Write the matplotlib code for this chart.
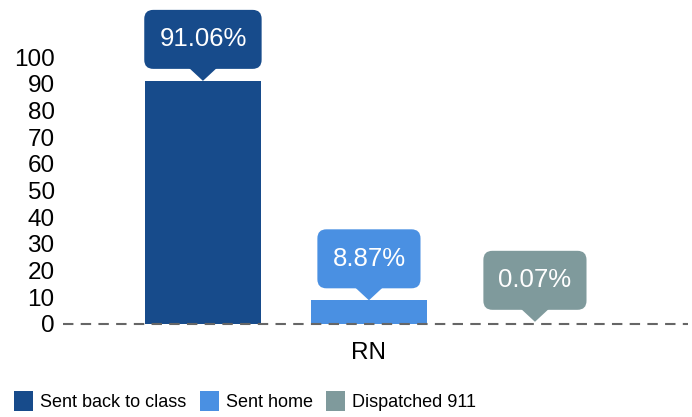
import matplotlib
matplotlib.use("Agg")
import matplotlib.pyplot as plt
from matplotlib.patches import FancyBboxPatch, Polygon, Patch
from matplotlib.transforms import IdentityTransform

plt.rcParams["font.family"] = ["Liberation Sans", "DejaVu Sans"]

categories = ["RN"]
series = ["Sent back to class", "Sent home", "Dispatched 911"]
values = [91.06, 8.87, 0.07]
labels = ["91.06%", "8.87%", "0.07%"]
colors = ["#174b8b", "#4a90e2", "#7f9a9c"]
yticks = list(range(0, 101, 10))

W, H = 692, 417
fig = plt.figure(figsize=(W / 100, H / 100), dpi=100)
ax = fig.add_axes([63 / W, (H - 324) / H, (688 - 63) / W, (324 - 57) / H])

bar_w = 0.70
offsets = [-1, 0, 1]
for off, v, c, s in zip(offsets, values, colors, series):
    ax.bar(off, v, width=bar_w, color=c, label=s, zorder=2)

ax.set_xlim(-1.843, 1.922)
ax.set_ylim(0, 100)
ax.set_yticks(yticks)
ax.set_yticklabels([str(t) for t in yticks], fontsize=17.5)
ax.set_xticks([0])
ax.set_xticklabels(categories, fontsize=17.5)
ax.tick_params(axis="y", length=0, pad=6)
ax.tick_params(axis="x", length=0, pad=13)
for sp in ax.spines.values():
    sp.set_visible(False)
ax.axhline(0, color="#666666", lw=1.5, ls=(0, (5, 3.5)), zorder=3, clip_on=False)

# callouts drawn in pixel space above each bar top
renderer = fig.canvas.get_renderer()
ident = IdentityTransform()
box_h, tri_h, tri_w, pad_x = 59, 12, 28, 15
for off, v, c, lab in zip(offsets, values, colors, labels):
    tx, ty = ax.transData.transform((off, v))
    if v < 1:
        ty += 2
    base = ty + tri_h
    t = fig.text(tx, base + box_h / 2, lab, transform=ident, ha="center",
                 va="center", color="white", fontsize=18.5, zorder=6)
    tw = t.get_window_extent(renderer).width
    bw = tw + 2 * pad_x
    r = 9
    box = FancyBboxPatch((tx - bw / 2 + r, base + r), bw - 2 * r, box_h - 2 * r,
                         boxstyle=f"round,pad={r}", transform=ident,
                         facecolor=c, edgecolor="none", zorder=5)
    fig.add_artist(box)
    tri = Polygon([(tx - tri_w / 2, base + 1), (tx + tri_w / 2, base + 1), (tx, ty)],
                  closed=True, transform=ident, facecolor=c, edgecolor="none", zorder=5)
    fig.add_artist(tri)

handles = [Patch(facecolor=c, edgecolor="none", label=s) for c, s in zip(colors, series)]
fig.legend(handles=handles, loc="center left", bbox_to_anchor=(10 / W, 16 / H),
           ncol=3, frameon=False, fontsize=13, handlelength=1.05, handleheight=1.3,
           handletextpad=0.4, columnspacing=0.75, borderaxespad=0, borderpad=0.2)

fig.savefig("out.png", dpi=100, facecolor="white")
